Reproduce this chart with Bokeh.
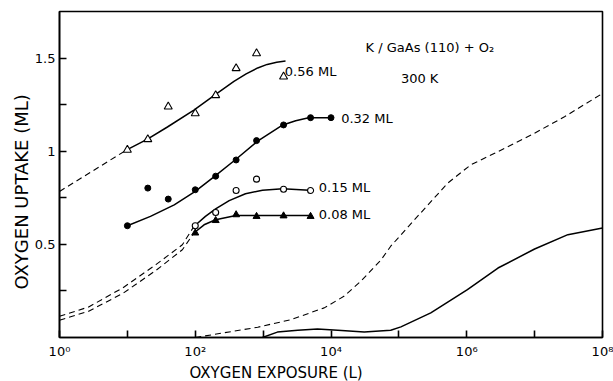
import math
from bokeh.plotting import figure
from bokeh.models import Label, FixedTicker, Title
from bokeh.embed import file_html
from bokeh.resources import INLINE

# ---- measured points (exposure in L, uptake in ML) ----
exp_056 = [10, 20, 40, 100, 200, 400, 800, 2000]
up_056 = [1.007, 1.064, 1.239, 1.203, 1.30, 1.445, 1.525, 1.40]
exp_032 = [10, 20, 40, 100, 200, 400, 800, 2000, 5000, 10000]
up_032 = [0.600, 0.802, 0.743, 0.793, 0.866, 0.953, 1.057, 1.141, 1.180, 1.180]
exp_015 = [100, 200, 400, 800, 2000, 5000]
up_015 = [0.600, 0.671, 0.789, 0.850, 0.796, 0.789]
exp_008 = [100, 200, 400, 800, 2000, 5000]
up_008 = [0.561, 0.628, 0.659, 0.650, 0.653, 0.650]

# ---- guide curves (log10 exposure, uptake) ----
fit_056_log = [0.99, 1.29, 1.59, 1.98, 2.28, 2.57, 2.75, 2.92, 3.06, 3.20, 3.33]
fit_056_y = [1.007, 1.064, 1.130, 1.221, 1.300, 1.375, 1.415, 1.447, 1.466, 1.478, 1.484]
ext_056_log = [0.0, 0.99]
ext_056_y = [0.784, 1.007]

fit_032_log = [1.0, 1.34, 1.69, 2.0, 2.28, 2.6, 2.93, 3.29, 3.48, 3.67, 4.0]
fit_032_y = [0.600, 0.650, 0.712, 0.784, 0.864, 0.957, 1.057, 1.141, 1.164, 1.180, 1.180]

fit_015_log = [1.98, 2.15, 2.30, 2.50, 2.74, 2.99, 3.29, 3.68]
fit_015_y = [0.596, 0.650, 0.690, 0.735, 0.772, 0.791, 0.798, 0.791]
ext_015_log = [0.0, 0.43, 0.93, 1.42, 1.81, 1.98]
ext_015_y = [0.114, 0.164, 0.266, 0.391, 0.498, 0.596]

fit_008_log = [1.98, 2.13, 2.30, 2.60, 2.94, 3.29, 3.68]
fit_008_y = [0.561, 0.605, 0.632, 0.655, 0.655, 0.655, 0.655]
ext_008_log = [0.0, 0.43, 0.93, 1.42, 1.81, 1.98]
ext_008_y = [0.093, 0.141, 0.236, 0.360, 0.471, 0.561]

clean_dash_log = [2.0, 2.42, 2.92, 3.41, 3.90, 4.19, 4.44, 4.74, 4.88, 5.23, 5.72, 6.06, 6.46, 6.95, 7.44, 8.0]
clean_dash_y = [0.0, 0.025, 0.055, 0.096, 0.159, 0.221, 0.302, 0.418, 0.49, 0.632, 0.829, 0.927, 0.998, 1.087, 1.185, 1.31]

clean_solid_log = [2.99, 3.21, 3.51, 3.80, 4.10, 4.49, 4.88, 5.03, 5.47, 6.01, 6.46, 7.0, 7.49, 8.0]
clean_solid_y = [0.0, 0.029, 0.039, 0.046, 0.039, 0.030, 0.039, 0.057, 0.132, 0.257, 0.373, 0.475, 0.552, 0.588]

x_tick_exps = [0, 1, 2, 3, 4, 5, 6, 7, 8]
x_tick_labels = ["10\u2070", "", "10\u00b2", "", "10\u2074", "", "10\u2076", "", "10\u2078"]
y_ticks = [0.25, 0.5, 0.75, 1.0, 1.25, 1.5]
y_tick_labels = ["", "0.5", "", "1", "", "1.5"]

FONT = "DejaVu Sans"

def lin(logs):
    return [10 ** v for v in logs]

p = figure(width=613, height=381, x_axis_type="log", x_range=(1, 1e8), y_range=(0, 1.75),
           output_backend="svg", toolbar_location=None,
           min_border_left=59, min_border_right=11, min_border_top=11, min_border_bottom=43)
p.background_fill_color = "white"
p.border_fill_color = "white"
p.xgrid.visible = False
p.ygrid.visible = False
p.outline_line_color = "black"
p.outline_line_width = 1.6
p.outline_line_alpha = 1.0

xt = [10 ** e for e in x_tick_exps]
p.xaxis.ticker = FixedTicker(ticks=xt, minor_ticks=[])
p.xaxis.major_label_overrides = {t: l for t, l in zip(xt, x_tick_labels)}
p.yaxis.ticker = FixedTicker(ticks=y_ticks, minor_ticks=[])
p.yaxis.major_label_overrides = {t: l for t, l in zip(y_ticks, y_tick_labels)}
for ax in (p.xaxis, p.yaxis):
    ax.axis_line_color = "black"
    ax.axis_line_width = 1.6
    ax.major_tick_line_color = "black"
    ax.major_tick_line_width = 1.6
    ax.major_tick_in = 7
    ax.major_tick_out = 0
    ax.minor_tick_line_color = None
    ax.major_label_text_font = FONT
    ax.major_label_text_font_size = "13px"
    ax.major_label_text_color = "black"
p.xaxis.major_label_standoff = 6
p.yaxis.major_label_standoff = 4

lw = 1.5
dash = "6 4"
# guide curves
p.line(lin(ext_056_log), ext_056_y, line_color="black", line_width=1.1, line_dash=dash)
p.line(lin(fit_056_log), fit_056_y, line_color="black", line_width=lw)
p.line(lin(fit_032_log), fit_032_y, line_color="black", line_width=lw)
p.line(lin(ext_015_log), ext_015_y, line_color="black", line_width=1.1, line_dash=dash)
p.line(lin(fit_015_log), fit_015_y, line_color="black", line_width=lw)
p.line(lin(ext_008_log), ext_008_y, line_color="black", line_width=1.1, line_dash=dash)
p.line(lin(fit_008_log), fit_008_y, line_color="black", line_width=lw)
p.line(lin(clean_dash_log), clean_dash_y, line_color="black", line_width=1.1, line_dash=dash)
p.line(lin(clean_solid_log), clean_solid_y, line_color="black", line_width=lw)

# measured points
p.scatter(exp_056, up_056, marker="triangle", size=8, fill_color="white", line_color="black", line_width=1.1)
p.scatter(exp_032, up_032, marker="circle", size=6, fill_color="black", line_color="black")
p.scatter(exp_015, up_015, marker="circle", size=6, fill_color="white", line_color="black", line_width=1.1)
p.scatter(exp_008, up_008, marker="triangle", size=7, fill_color="black", line_color="black")

def add_text(lx, y, text, size="13px", align="left", baseline="middle"):
    p.add_layout(Label(x=10 ** lx, y=y, text=text, text_font=FONT, text_font_size=size,
                       text_align=align, text_baseline=baseline, text_color="black"))

add_text(3.32, 1.430, "0.56 ML")
add_text(4.15, 1.178, "0.32 ML")
add_text(3.82, 0.803, "0.15 ML")
add_text(3.82, 0.659, "0.08 ML")
add_text(4.51, 1.559, "K / GaAs (110) + O\u2082")
add_text(5.03, 1.393, "300 K")

# axis titles as side titles
p.add_layout(Title(text="OXYGEN EXPOSURE (L)", align="left", offset=130, standoff=0,
                   text_font=FONT, text_font_size="15px", text_font_style="normal",
                   text_color="black"), "below")
p.add_layout(Title(text="OXYGEN UPTAKE (ML)", align="left", offset=48, standoff=0,
                   text_font=FONT, text_font_size="18px", text_font_style="normal",
                   text_color="black"), "left")

open("out.html", "w").write(file_html(p, INLINE))
